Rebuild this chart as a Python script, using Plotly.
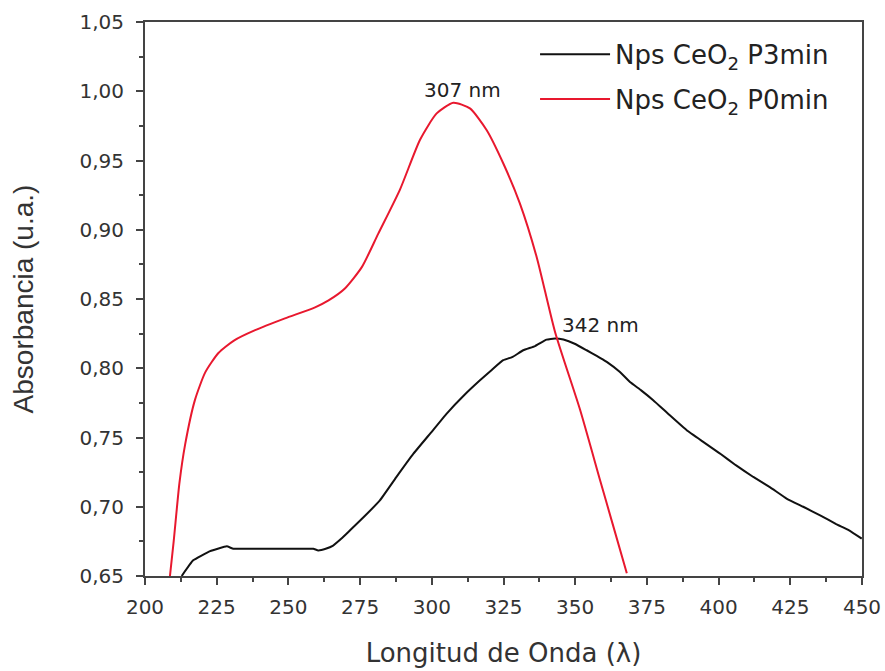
import plotly.graph_objects as go
import numpy as np

# P3min (black)
wl_p3 = [212.8, 216.8, 222.7, 228.5, 230.8, 236.0, 242.4, 250.0, 255.0, 258.7, 260.4, 263.0, 265.6,
         268.5, 271.5, 276.0, 281.9, 287.5, 293.6, 299.5, 305.2, 311.0, 316.8, 321.0, 324.9, 328.0,
         331.9, 336.0, 340.0, 343.0, 345.9, 350.0, 354.0, 357.5, 361.0, 365.6, 369.1, 373.0, 377.2,
         383.0, 388.9, 394.5, 400.5, 406.0, 412.1, 418.0, 423.7, 429.5, 435.4, 441.0, 445.5, 449.9]
abs_p3 = [0.650, 0.6613, 0.668, 0.6714, 0.6697, 0.6697, 0.6697, 0.6697, 0.6697, 0.6697, 0.6685, 0.6697, 0.672,
          0.677, 0.683, 0.692, 0.7046, 0.7210, 0.7383, 0.7530, 0.7673, 0.7800, 0.7913, 0.7990, 0.8058, 0.8080,
          0.8130, 0.8160, 0.8207, 0.8215, 0.8207, 0.8175, 0.8130, 0.8090, 0.8046, 0.7973, 0.7900, 0.7840, 0.7769,
          0.7660, 0.7552, 0.7470, 0.7384, 0.7300, 0.7215, 0.7140, 0.7059, 0.7000, 0.6938, 0.6875, 0.6830, 0.6770]

# P0min (red)
wl_p0 = [208.7, 210.0, 212.0, 214.0, 217.4, 221.0, 225.6, 231.0, 238.4, 248.8, 259.3, 264.0, 269.7,
         275.6, 281.3, 288.9, 295.9, 301.7, 307.5, 313.3, 319.1, 324.9, 330.7, 336.6, 343.0, 351.7,
         358.7, 363.0, 368.0]
abs_p0 = [0.650, 0.675, 0.717, 0.745, 0.777, 0.797, 0.811, 0.820, 0.8275, 0.836, 0.844, 0.849, 0.8576,
          0.873, 0.897, 0.929, 0.965, 0.984, 0.9917, 0.9876, 0.972, 0.948, 0.919, 0.880, 0.826, 0.770,
          0.719, 0.688, 0.652]

peak_labels = ["307 nm", "342 nm"]

wide_font = "DejaVu Sans, Verdana, sans-serif"
narrow_font = "Liberation Sans, Arial, sans-serif"

fig = go.Figure()
fig.add_trace(go.Scatter(x=wl_p3, y=abs_p3, mode="lines", name="Nps CeO<sub>2</sub> P3min",
                         legendgroup="a",
                         line=dict(color="#111111", width=2, shape="spline", smoothing=0.3)))
fig.add_trace(go.Scatter(x=wl_p0, y=abs_p0, mode="lines", name="Nps CeO<sub>2</sub> P0min",
                         legendgroup="b",
                         line=dict(color="#e8182e", width=2, shape="spline", smoothing=0.6)))

i0 = int(np.argmax(abs_p0))
i3 = int(np.argmax(abs_p3))
fig.add_annotation(x=wl_p0[i0], y=abs_p0[i0], text=peak_labels[0], showarrow=False,
                   xanchor="center", yanchor="bottom", xshift=9, yshift=-1,
                   font=dict(family=wide_font, size=20, color="#222"))
fig.add_annotation(x=wl_p3[i3], y=abs_p3[i3], text=peak_labels[1], showarrow=False,
                   xanchor="left", yanchor="bottom", xshift=5, yshift=-1,
                   font=dict(family=wide_font, size=20, color="#222"))

axis_common = dict(showline=True, linecolor="#444", linewidth=2, mirror=True,
                   ticks="outside", ticklen=7, tickwidth=1.5, tickcolor="#444",
                   showgrid=False, zeroline=False, automargin=False,
                   tickfont=dict(family=wide_font, size=20, color="#333"))

fig.update_layout(
    width=885, height=671,
    margin=dict(l=145, r=23, t=22, b=95),
    paper_bgcolor="white", plot_bgcolor="white",
    separators=", ",
    xaxis=dict(range=[200, 450], dtick=25, tick0=200, ticklabelstandoff=5,
               minor=dict(dtick=12.5, ticks="outside", ticklen=4, tickwidth=1.5, tickcolor="#444"),
               title=dict(text="Longitud de Onda (λ)", standoff=26,
                          font=dict(family=wide_font, size=26, color="#333")),
               **axis_common),
    yaxis=dict(range=[0.65, 1.05], dtick=0.05, tick0=0.65, tickformat=".2f", ticklabelstandoff=8,
               minor=dict(dtick=0.025, ticks="outside", ticklen=4, tickwidth=1.5, tickcolor="#444"),
               title=dict(text="Absorbancia (u.a.)", standoff=38,
                          font=dict(family=narrow_font, size=28, color="#333")),
               **axis_common),
    legend=dict(x=0.544, y=0.984, xanchor="left", yanchor="top",
                bgcolor="rgba(0,0,0,0)", borderwidth=0,
                font=dict(family=wide_font, size=26, color="#222"),
                itemwidth=70, tracegroupgap=8),
    showlegend=True,
)

fig.write_html("out.html")
